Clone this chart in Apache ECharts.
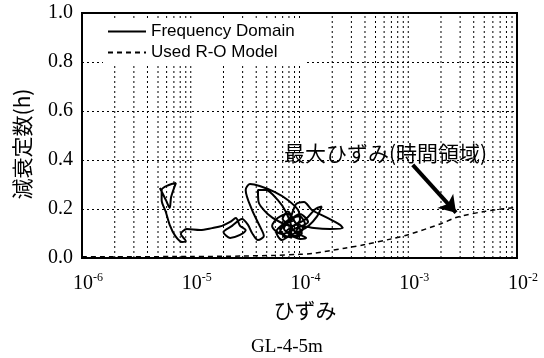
<!DOCTYPE html>
<html><head><meta charset="utf-8">
<script src="https://cdn.jsdelivr.net/npm/echarts@6/dist/echarts.min.js"></script>
<style>html,body{margin:0;padding:0;background:#fff}#c{width:544px;height:358px}</style>
</head><body><div id="c"></div>
<script>
// ---- data ----
const freqStrain = [5.2e-6,5.9e-6,6.4e-6,6.6e-6,7.3e-6,6.3e-6,5.4e-6,5.4e-6,5.9e-6,6.4e-6,7.2e-6,8.3e-6,9.0e-6,8.1e-6,9.2e-6,1.22e-5,1.57e-5,1.94e-5,2.3e-5,2.6e-5,2.84e-5,3.2e-5,2.84e-5,2.3e-5,2.0e-5,2.4e-5,2.96e-5,3.36e-5,3.66e-5,4.15e-5,4.7e-5,4.3e-5,3.66e-5,3.2e-5,3.5e-5,4.3e-5,5.95e-5,7.8e-5,9.7e-5,1.01e-4,8.5e-5,6.6e-5,5.1e-5,4.2e-5,4.15e-5,4.9e-5,6.3e-5,7.5e-5,8.5e-5,7.5e-5,6.6e-5,8.2e-5,9.3e-5,1.1e-4,1.3e-4,1.75e-4,2.36e-4,2.5e-4,1.9e-4,1.36e-4,1.05e-4,9.3e-5,1.15e-4,1.01e-4,8.2e-5,6.9e-5,6.1e-5,7.2e-5,8.9e-5,7.8e-5,6.3e-5,5.6e-5,6.9e-5,9.3e-5,1.2e-4,1.01e-4,7.8e-5,6.6e-5,8.5e-5,
  8.0e-5,9.5e-5,1.08e-4,9.0e-5,7.2e-5,8.6e-5,1.0e-4,1.12e-4,9.6e-5,8.2e-5,7.0e-5,7.8e-5,9.0e-5,1.05e-4,9.2e-5,7.6e-5,8.8e-5,1.15e-4,1.4e-4,1.6e-4,1.45e-4,1.2e-4,1.0e-4,8.4e-5];
const freqDamping = [0.286,0.237,0.204,0.249,0.306,0.298,0.278,0.237,0.188,0.135,0.090,0.065,0.069,0.098,0.118,0.114,0.122,0.131,0.147,0.163,0.131,0.114,0.094,0.082,0.106,0.131,0.159,0.135,0.102,0.073,0.090,0.131,0.196,0.278,0.302,0.294,0.269,0.237,0.196,0.155,0.131,0.147,0.180,0.229,0.278,0.278,0.237,0.188,0.114,0.082,0.122,0.163,0.220,0.229,0.196,0.167,0.135,0.122,0.118,0.122,0.131,0.106,0.082,0.078,0.090,0.073,0.106,0.139,0.155,0.180,0.163,0.131,0.098,0.122,0.147,0.180,0.147,0.106,0.082,
  0.100,0.140,0.120,0.090,0.120,0.160,0.170,0.140,0.100,0.130,0.160,0.190,0.150,0.100,0.085,0.110,0.130,0.160,0.200,0.210,0.170,0.130,0.110,0.095];
const roStrain  = [1e-6,1e-5,3e-5,6e-5,1e-4,1.3e-4,2.6e-4,4e-4,7e-4,1e-3,2e-3,2.75e-3,5e-3,1e-2];
const roDamping = [0.005,0.006,0.008,0.011,0.015,0.018,0.040,0.055,0.078,0.095,0.140,0.165,0.190,0.207];
const decades = [-6,-5,-4,-3];
const arrowFrom = [1.1e-3, 0.38];
const arrowTo = [2.75e-3, 0.185];
const seriesNames = ['Frequency Domain','Used R-O Model'];

// vertical dotted grid (gridline positions, not data)
const vGrid = [];
decades.forEach(d => { for (let k = 1; k <= 9; k++) { if (d === -6 && k === 1) continue; const v = k * Math.pow(10, d); vGrid.push([v, 0], [v, 1], [v, '-']); } });

const chart = echarts.init(document.getElementById('c'));
const serif = '"Liberation Serif","Times New Roman",serif';
const jp = '"Noto Sans CJK JP","Noto Sans CJK SC",sans-serif';
chart.setOption({
  animation: false,
  backgroundColor: '#fff',
  grid: { left: 82, right: 27, top: 13, bottom: 100, show: true, borderColor: '#000', borderWidth: 2 },
  legend: {
    data: seriesNames, orient: 'vertical', left: 103, top: 21, z: 10,
    backgroundColor: '#fff', padding: [2, 10, 2, 4], itemGap: 4,
    itemWidth: 38, itemHeight: 14,
    itemStyle: { color: 'transparent', borderWidth: 0, opacity: 0 },
    textStyle: { fontFamily: '"Liberation Sans",Arial,sans-serif', fontSize: 17, color: '#000' }
  },
  xAxis: {
    type: 'log', logBase: 10, min: 1e-6, max: 1e-2,
    axisLine: { show: true, lineStyle: { color: '#000', width: 2 } },
    axisTick: { show: false }, splitLine: { show: false },
    axisLabel: {
      margin: 14, color: '#000',
      formatter: v => { const e = Math.round(Math.log10(v)); return '{sp|}{b|10}{s|' + e + '}'; },
      rich: {
        sp: { width: 12 },
        b: { fontFamily: serif, fontSize: 20, color: '#000' },
        s: { fontFamily: serif, fontSize: 12, color: '#000', padding: [0, 0, 12, 0] }
      }
    }
  },
  yAxis: {
    type: 'value', min: 0, max: 1, interval: 0.2,
    axisLine: { show: true, lineStyle: { color: '#000', width: 2 } },
    axisTick: { show: false },
    splitLine: { show: true, lineStyle: { color: '#000', type: [2, 3], width: 1 } },
    axisLabel: { margin: 9, color: '#000', fontFamily: serif, fontSize: 20, formatter: v => v.toFixed(1) }
  },
  graphic: [
    { type: 'text', x: 22, y: 144, rotation: Math.PI / 2,
      style: { text: '減衰定数(h)', font: '21px ' + jp, fill: '#000', textAlign: 'center', textVerticalAlign: 'middle' } },
    { type: 'text', x: 305, y: 310,
      style: { text: 'ひずみ', font: '21px ' + jp, fill: '#000', textAlign: 'center', textVerticalAlign: 'middle' } },
    { type: 'text', x: 287, y: 347,
      style: { text: 'GL-4-5m', font: '19px ' + serif, fill: '#000', textAlign: 'center', textVerticalAlign: 'middle' } },
    { type: 'text', x: 284, y: 153, z: 10,
      style: { text: '最大ひずみ(時間領域)', font: '21px ' + jp, fill: '#000', textAlign: 'left', textVerticalAlign: 'middle' } }
  ],
  series: [
    {
      name: 'vgrid', type: 'line', data: vGrid, symbol: 'none', silent: true, connectNulls: false, z: 1,
      lineStyle: { color: '#000', type: [2, 3], width: 1 }
    },
    {
      name: seriesNames[0], type: 'line', symbol: 'none', smooth: 0.3,
      data: freqStrain.map((x, i) => [x, freqDamping[i]]),
      lineStyle: { color: '#000', width: 2 }, itemStyle: { color: '#000' }, z: 3
    },
    {
      name: seriesNames[1], type: 'line', symbol: 'none', smooth: 0.3,
      data: roStrain.map((x, i) => [x, roDamping[i]]),
      lineStyle: { color: '#000', width: 1.5, type: [5, 4] }, itemStyle: { color: '#000' }, z: 3,
      markLine: {
        silent: true, symbol: ['none', 'arrow'], symbolSize: 16, label: { show: false },
        lineStyle: { color: '#000', width: 4, type: 'solid' },
        data: [[{ coord: arrowFrom }, { coord: arrowTo }]]
      }
    }
  ]
});
</script></body></html>
